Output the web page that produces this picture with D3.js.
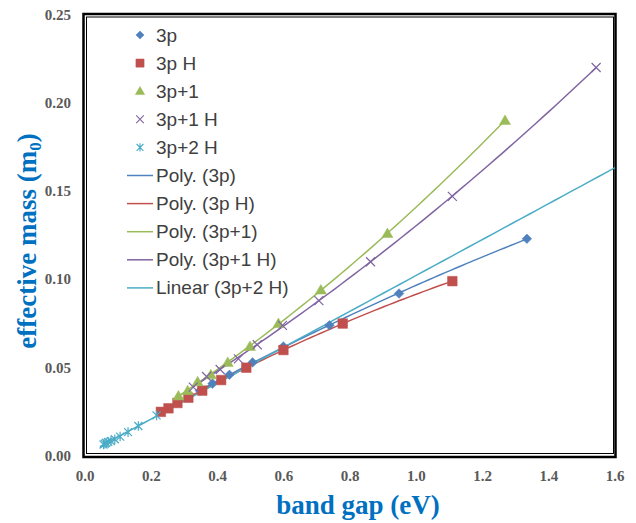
<!DOCTYPE html>
<html lang="en">
<head>
  <meta charset="UTF-8">
  <title>Effective mass vs band gap</title>
  <script src="https://d3js.org/d3.v7.min.js"></script>
  <style>
    body { margin: 0; background: #fff; }
    svg { display: block; }
  </style>
</head>
<body>
<svg id="chart" width="636" height="523"></svg>
<script>
// Data (band gap in eV, effective mass in m0)
const x3p = [0.347, 0.385, 0.436, 0.506, 0.599, 0.738, 0.948, 1.334];
const y3p = [0.037, 0.041, 0.046, 0.053, 0.062, 0.074, 0.092, 0.123];

const x3pH = [0.229, 0.252, 0.279, 0.312, 0.354, 0.411, 0.487, 0.599, 0.778, 1.109];
const y3pH = [0.025, 0.027, 0.030, 0.033, 0.037, 0.043, 0.050, 0.060, 0.075, 0.099];

const x3p1 = [0.282, 0.310, 0.340, 0.380, 0.431, 0.498, 0.584, 0.712, 0.913, 1.268];
const y3p1 = [0.034, 0.037, 0.042, 0.046, 0.053, 0.062, 0.075, 0.094, 0.126, 0.190];

const x3p1H = [0.327, 0.367, 0.408, 0.463, 0.520, 0.596, 0.706, 0.862, 1.109, 1.543];
const y3p1H = [0.039, 0.045, 0.049, 0.055, 0.063, 0.074, 0.088, 0.110, 0.147, 0.220];

const x3p2H = [0.056, 0.060, 0.064, 0.070, 0.078, 0.090, 0.106, 0.130, 0.161, 0.216];
const y3p2H = [0.0065, 0.007, 0.0075, 0.008, 0.0085, 0.0095, 0.011, 0.0135, 0.017, 0.023];

const linearRange = [0.045, 1.6];

const xTicks = [0, 0.2, 0.4, 0.6, 0.8, 1.0, 1.2, 1.4, 1.6];
const yTicks = [0, 0.05, 0.10, 0.15, 0.20, 0.25];

const colors = {
  blue: "#4f81bd", red: "#c0504d", green: "#9bbb59",
  purple: "#8064a2", cyan: "#4bacc6"
};

const svg = d3.select("#chart");

const x = d3.scaleLinear().domain([0, 1.6]).range([85, 615]);
const y = d3.scaleLinear().domain([0, 0.25]).range([456, 14.5]);

// least squares polynomial fit (order 1 or 2)
function polyFit(xs, ys, order) {
  const n = order + 1;
  const A = [];
  for (let i = 0; i < n; i++) {
    A.push([]);
    for (let j = 0; j < n; j++) A[i].push(d3.sum(xs, v => Math.pow(v, i + j)));
    A[i].push(d3.sum(xs, (v, k) => ys[k] * Math.pow(v, i)));
  }
  for (let c = 0; c < n; c++) {
    for (let r = c + 1; r < n; r++) {
      const f = A[r][c] / A[c][c];
      for (let k = c; k <= n; k++) A[r][k] -= f * A[c][k];
    }
  }
  const coef = new Array(n).fill(0);
  for (let r = n - 1; r >= 0; r--) {
    let s = A[r][n];
    for (let k = r + 1; k < n; k++) s -= A[r][k] * coef[k];
    coef[r] = s / A[r][r];
  }
  return v => coef.reduce((acc, c, i) => acc + c * Math.pow(v, i), 0);
}

function curvePoints(f, x0, x1) {
  return d3.range(0, 61).map(i => {
    const v = x0 + (x1 - x0) * i / 60;
    return [v, f(v)];
  });
}

const line = d3.line().x(d => x(d[0])).y(d => y(d[1]));

// custom markers
const markers = {
  diamond: s => `M0,${-s}L${s},0L0,${s}L${-s},0Z`,
  square: s => `M${-s},${-s}H${s}V${s}H${-s}Z`,
  triangle: s => `M0,${-s * 1.1}L${s * 1.1},${s * 0.8}L${-s * 1.1},${s * 0.8}Z`,
  cross: s => `M${-s},${-s}L${s},${s}M${-s},${s}L${s},${-s}`,
  star: s => `M${-s},${-s}L${s},${s}M${-s},${s}L${s},${-s}M0,${-s * 1.2}V${s * 1.2}`
};

const series = [
  {name: "3p", xs: x3p, ys: y3p, color: colors.blue, marker: "diamond", size: 4.8, fill: true},
  {name: "3p H", xs: x3pH, ys: y3pH, color: colors.red, marker: "square", size: 4.8, fill: true},
  {name: "3p+1", xs: x3p1, ys: y3p1, color: colors.green, marker: "triangle", size: 5, fill: true},
  {name: "3p+1 H", xs: x3p1H, ys: y3p1H, color: colors.purple, marker: "cross", size: 4.5, fill: false},
  {name: "3p+2 H", xs: x3p2H, ys: y3p2H, color: colors.cyan, marker: "star", size: 4, fill: false}
];

// frame
svg.append("rect")
  .attr("x", 83.5).attr("y", 14).attr("width", 532).attr("height", 443)
  .attr("fill", "#fff").attr("stroke", "#000").attr("stroke-width", 2.5);
svg.append("rect")
  .attr("x", 86.5).attr("y", 17).attr("width", 527).attr("height", 436.5)
  .attr("fill", "none").attr("stroke", "#000").attr("stroke-width", 1);

// tick labels
svg.append("g").selectAll("text").data(xTicks).join("text")
  .attr("x", d => x(d)).attr("y", 481)
  .attr("text-anchor", "middle")
  .attr("font-family", "Liberation Serif, Times New Roman, serif")
  .attr("font-weight", "bold").attr("font-size", 15).attr("fill", "#595959")
  .text(d => d.toFixed(1));

svg.append("g").selectAll("text").data(yTicks).join("text")
  .attr("x", 71).attr("y", d => y(d) + 5)
  .attr("text-anchor", "end")
  .attr("font-family", "Liberation Serif, Times New Roman, serif")
  .attr("font-weight", "bold").attr("font-size", 15).attr("fill", "#595959")
  .text(d => d.toFixed(2));

// axis titles
svg.append("text")
  .attr("x", 358).attr("y", 514)
  .attr("text-anchor", "middle")
  .attr("font-family", "Liberation Serif, Times New Roman, serif")
  .attr("font-weight", "bold").attr("font-size", 27).attr("fill", "#0070c0")
  .text("band gap (eV)");

const yTitle = svg.append("text")
  .attr("transform", "translate(36,241) rotate(-90)")
  .attr("text-anchor", "middle")
  .attr("font-family", "Liberation Serif, Times New Roman, serif")
  .attr("font-weight", "bold").attr("font-size", 27).attr("fill", "#0070c0");
yTitle.append("tspan").text("effective mass (m");
yTitle.append("tspan").attr("font-size", 17).attr("dy", 5).text("0");
yTitle.append("tspan").attr("dy", -5).text(")");

// trendlines
const plot = svg.append("g");
series.slice(0, 4).forEach(s => {
  const f = polyFit(s.xs, s.ys, 2);
  plot.append("path")
    .datum(curvePoints(f, d3.min(s.xs), d3.max(s.xs)))
    .attr("fill", "none").attr("stroke", s.color).attr("stroke-width", 1.5)
    .attr("d", line);
});
const lin = polyFit(x3p2H, y3p2H, 1);
plot.append("path")
  .datum(curvePoints(lin, linearRange[0], linearRange[1]))
  .attr("fill", "none").attr("stroke", colors.cyan).attr("stroke-width", 1.5)
  .attr("d", line);

// markers
series.forEach(s => {
  plot.append("g").selectAll("path")
    .data(s.xs.map((v, i) => [v, s.ys[i]]))
    .join("path")
    .attr("transform", d => `translate(${x(d[0])},${y(d[1])})`)
    .attr("d", markers[s.marker](s.size))
    .attr("fill", s.fill ? s.color : "none")
    .attr("stroke", s.color)
    .attr("stroke-width", s.fill ? 0.5 : 1.2);
});

// legend
const legendTop = 35, legendStep = 28.1;
const legend = svg.append("g");
series.forEach((s, i) => {
  const cy = legendTop + i * legendStep;
  legend.append("path")
    .attr("transform", `translate(140,${cy})`)
    .attr("d", markers[s.marker](s.size * 0.85))
    .attr("fill", s.fill ? s.color : "none")
    .attr("stroke", s.color)
    .attr("stroke-width", s.fill ? 0.5 : 1.1);
});
const lineLabels = ["Poly. (3p)", "Poly. (3p H)", "Poly. (3p+1)", "Poly. (3p+1 H)", "Linear (3p+2 H)"];
lineLabels.forEach((t, i) => {
  const cy = legendTop + (i + 5) * legendStep;
  legend.append("line")
    .attr("x1", 127).attr("x2", 153).attr("y1", cy).attr("y2", cy)
    .attr("stroke", series[i].color).attr("stroke-width", 1.5);
});
const allLabels = series.map(s => s.name).concat(lineLabels);
legend.selectAll("text").data(allLabels).join("text")
  .attr("x", 156).attr("y", (d, i) => legendTop + i * legendStep + 6.5)
  .attr("font-family", "Liberation Sans, Arial, sans-serif")
  .attr("font-size", 19).attr("fill", "#404040")
  .text(d => d);
</script>
</body>
</html>
